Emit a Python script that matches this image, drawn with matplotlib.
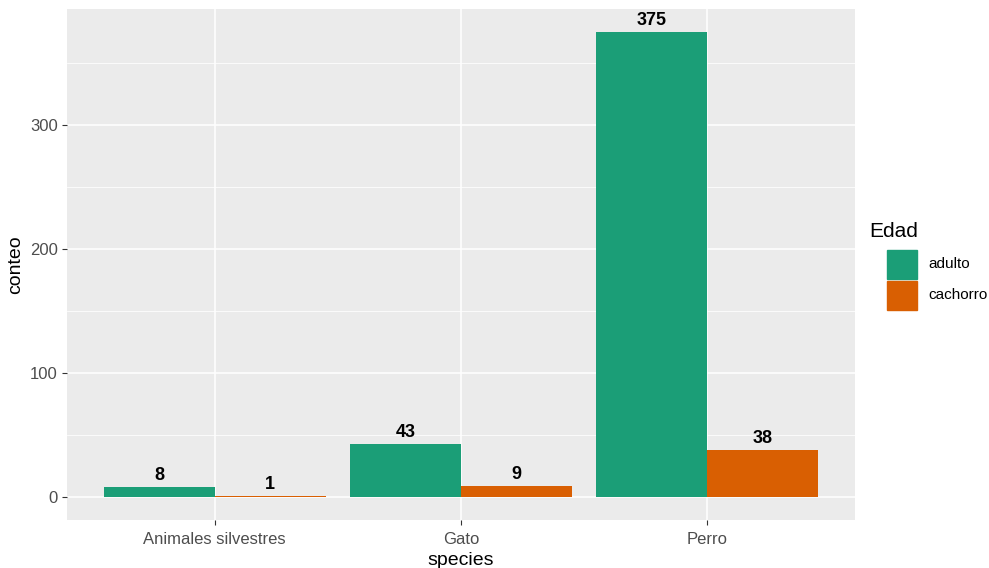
import matplotlib
matplotlib.use("Agg")
import matplotlib.pyplot as plt
from matplotlib.patches import Rectangle
import numpy as np

species = ["Animales silvestres", "Gato", "Perro"]
edad = ["adulto", "cachorro"]
adulto = [8, 43, 375]
cachorro = [1, 9, 38]
colors = ["#1B9E77", "#D95F02"]

plt.rcParams['font.family'] = ['Liberation Sans', 'DejaVu Sans']

W, H = 989, 568
fig = plt.figure(figsize=(W/100, H/100), dpi=100)
ax = fig.add_axes([67/W, (H-520)/H, (855-67)/W, (520-9)/H])
ax.set_facecolor("#EBEBEB")

x = np.arange(1, len(species)+1)
bw = 0.45
series = [adulto, cachorro]
for i, (vals, c) in enumerate(zip(series, colors)):
    xs = x + (i - 0.5) * bw
    ax.bar(xs, vals, width=bw, color=c, zorder=3)
    for xx, v in zip(xs, vals):
        ax.annotate(str(v), (xx, v), xytext=(0, 2), textcoords="offset points",
                    ha="center", va="bottom", fontsize=13, fontweight="bold", zorder=4)

vmax = max(adulto + cachorro)
ax.set_ylim(-0.05*vmax, vmax*1.05)
ax.set_xlim(0.4, 3.6)
ax.set_xticks(x)
ax.set_xticklabels(species)
ax.set_yticks([0, 100, 200, 300])
ax.set_yticks([50, 150, 250, 350], minor=True)
ax.set_xticks([], minor=True)
ax.grid(True, which="major", color="white", linewidth=1.1, zorder=0)
ax.grid(True, which="minor", axis="y", color="white", linewidth=0.55, zorder=0)
ax.set_axisbelow(True)
for s in ax.spines.values():
    s.set_visible(False)
ax.tick_params(which="major", length=3.5, width=0.8, color="#333333",
               labelcolor="#4D4D4D", labelsize=12, pad=3)
ax.tick_params(axis="x", pad=5)
ax.tick_params(which="minor", length=0)
ax.set_xlabel("species", fontsize=14, labelpad=4)
ax.set_ylabel("conteo", fontsize=14, labelpad=4)

# legend
fig.text(869/W, 1-231/H, "Edad", fontsize=15, va="center", ha="left")
for i, (lab, c) in enumerate(zip(edad, colors)):
    y0 = 249 + i*31
    fig.patches.append(Rectangle((887/W, 1-(y0+30)/H), 30/W, 29/H,
                                 transform=fig.transFigure, color=c))
    fig.text(928/W, 1-(y0+15)/H, lab, fontsize=11, va="center", ha="left")

fig.savefig("out.png", dpi=100)
